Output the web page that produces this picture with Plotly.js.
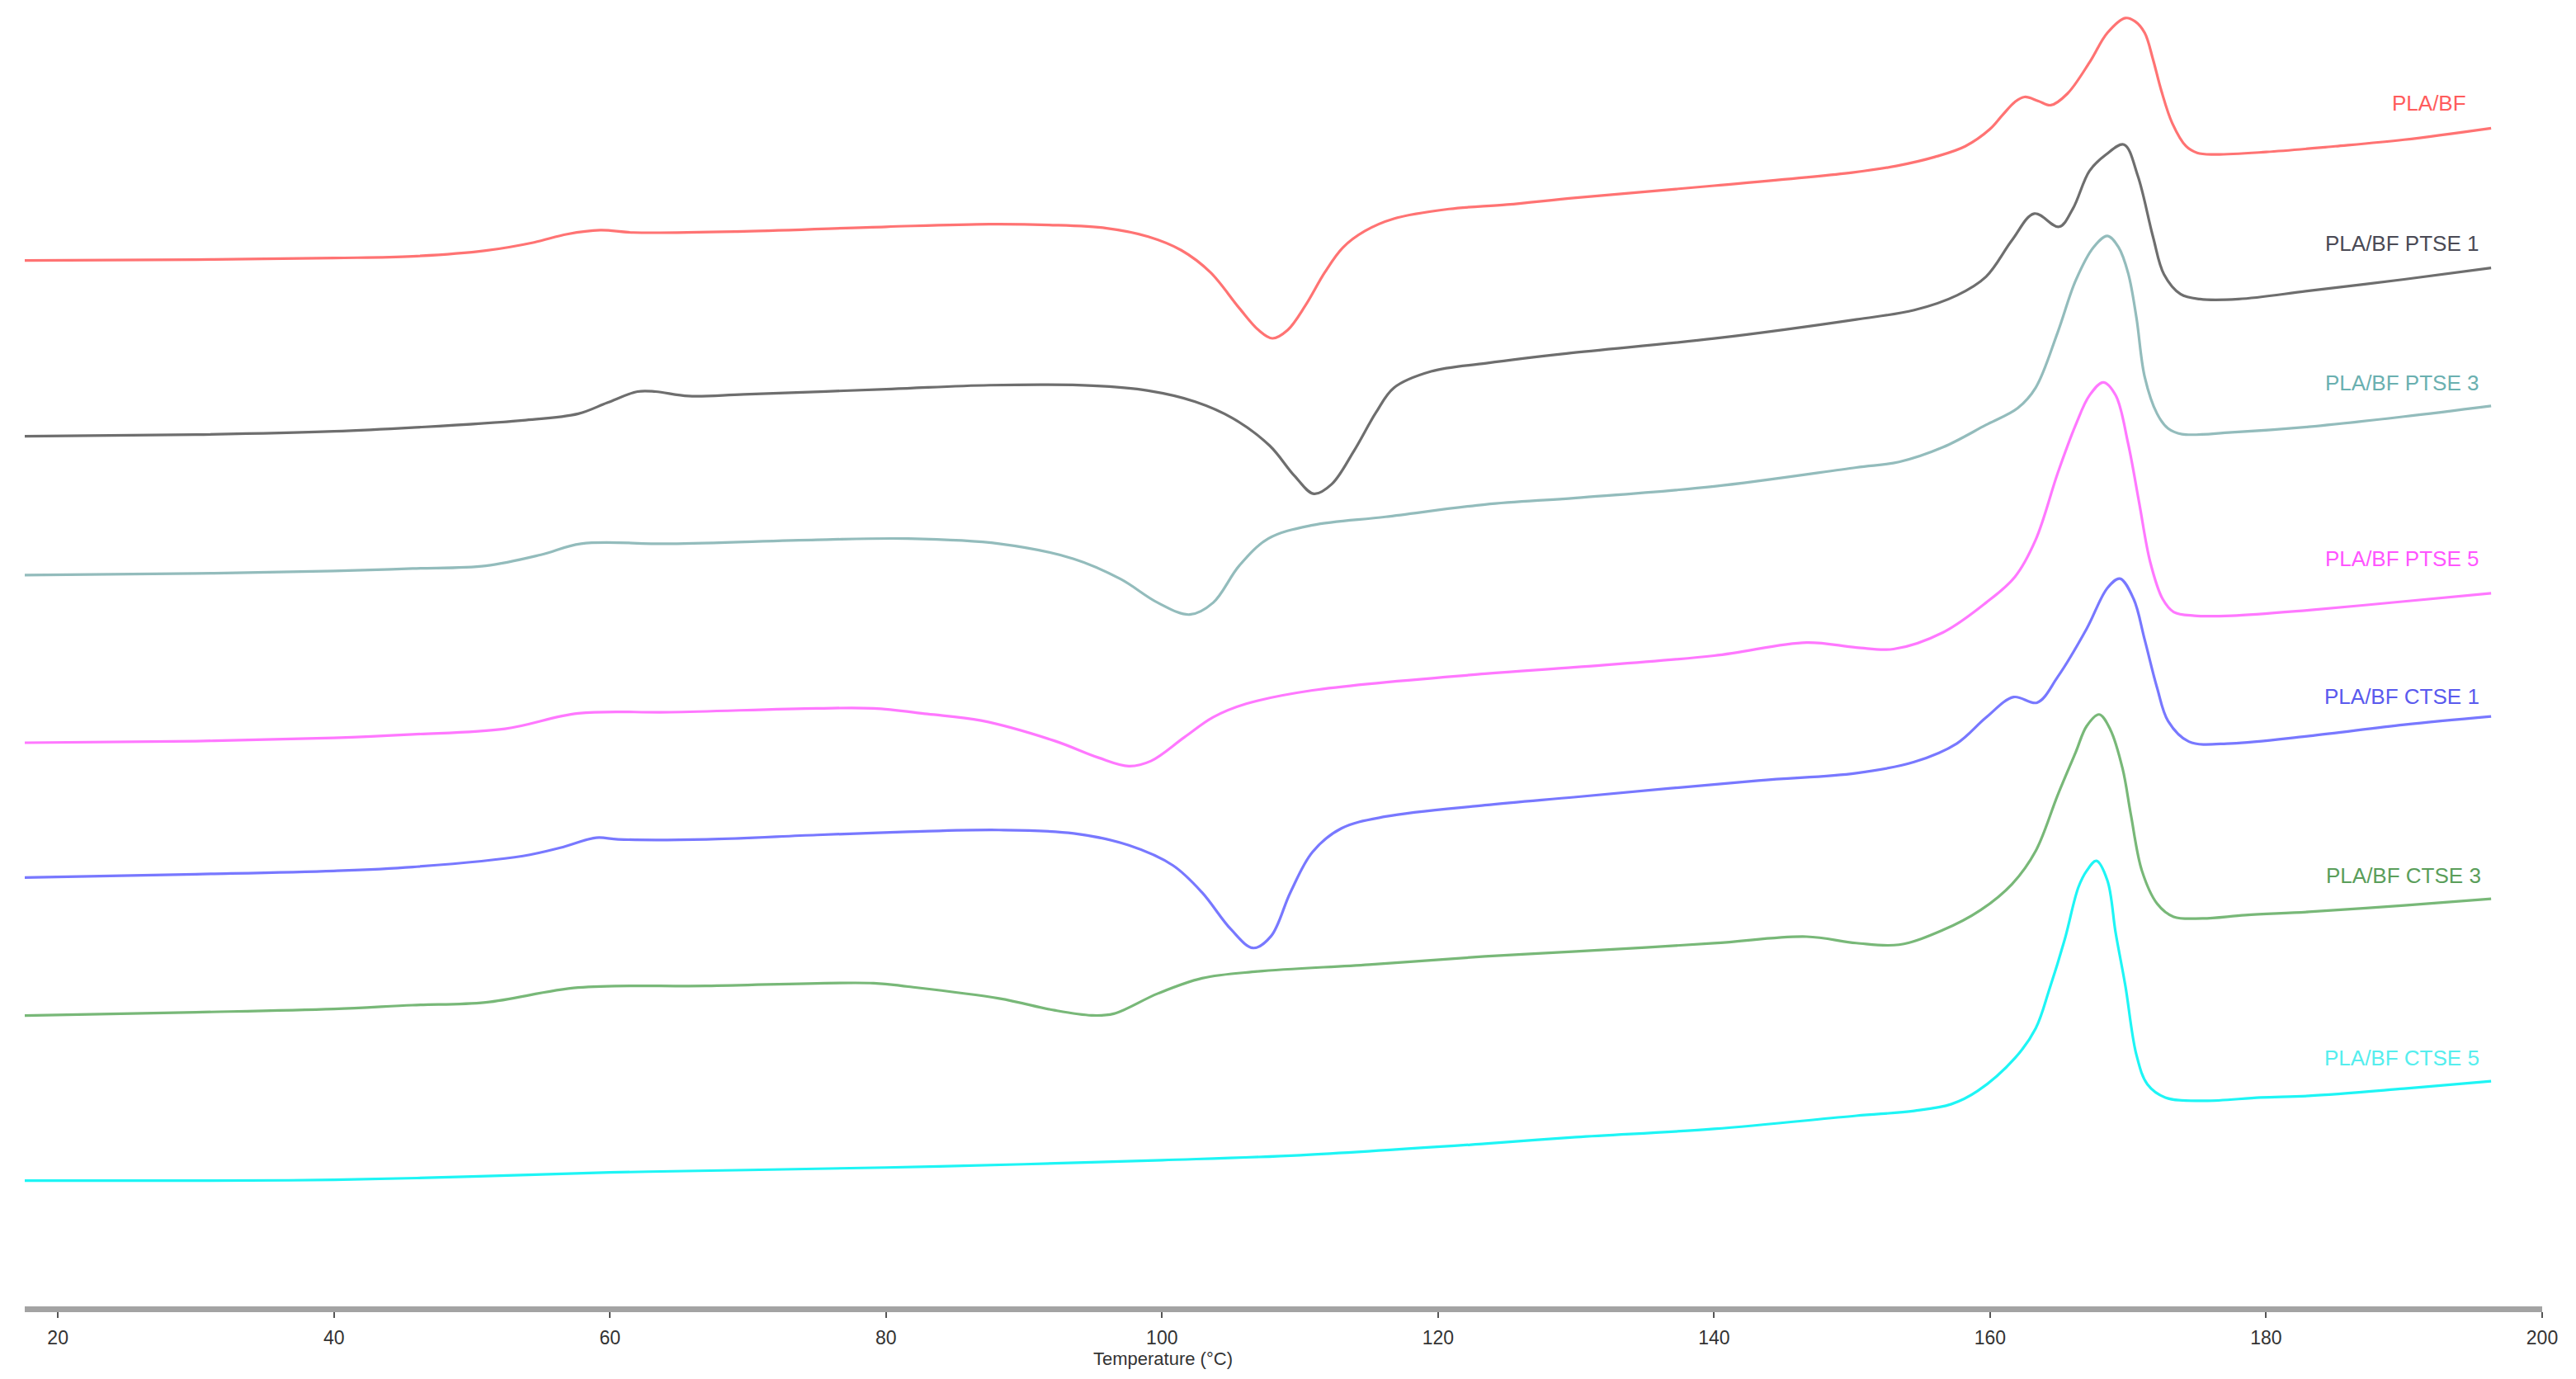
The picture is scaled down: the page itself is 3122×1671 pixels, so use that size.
<!DOCTYPE html>
<html>
<head>
<meta charset="utf-8">
<script src="https://cdn.plot.ly/plotly-3.0.1.min.js"></script>
<style>html,body{margin:0;padding:0;background:#fff;}#chart{width:3122px;height:1671px;}</style>
</head>
<body>
<div id="chart"></div>
<script>
// DSC heating curves: temperature (°C) and heat flow (arbitrary units, curves offset)
const seriesNames = ["PLA/BF", "PLA/BF PTSE 1", "PLA/BF PTSE 3", "PLA/BF PTSE 5", "PLA/BF CTSE 1", "PLA/BF CTSE 3", "PLA/BF CTSE 5"];
const tickValues = [20, 40, 60, 80, 100, 120, 140, 160, 180, 200];

const tPLABF = [17.6,30,40,45.7,51,54.5,56.9,59.3,61.7,69.7,80,87.5,91.8,96,99,101.4,103.5,105.6,107,108,109.1,110.4,111.8,113.1,114.7,116.8,120.8,125,130,140,150,153.2,156,158.2,160,160.9,161.8,162.5,163.5,164.4,165.6,167.2,168.5,169.8,170.5,171.2,171.8,172.4,173.2,174.2,175,176.2,180,185,190,196.3];
const hPLABF = [638.5,639,640,641,644.5,649.5,654.5,656.9,655.5,656.2,659,660.6,660.1,658.1,653,644.7,631.3,609.5,596.1,591.1,596.1,611.2,631.3,646.3,656.4,663.9,669.8,672.5,676.7,684,692,696,701.5,708,718.5,727,735,738,735.5,733,740,759,777,786,784,777,761,742,722,708,704,703,704.5,708,712,719];

const tPTSE1 = [17.6,30,40,45.7,53.7,57.7,59.8,62,63.3,65.7,69.7,80.4,87.5,95,99,102.4,105.1,107.8,109.6,111,112.3,113.9,115.5,116.8,119.5,123.5,129.3,140,150.3,154.5,157.6,159.7,161.6,163.2,165,166,167.2,168.4,169.7,170.7,171.8,172.6,173.8,175.2,178,183.1,190,196.3];
const hPTSE1 = [531.5,532.5,534.5,536.8,541.2,545.2,551.9,558.7,558.7,556,557,560.3,562.6,562.3,559.3,552.6,542.6,525.8,507.4,496.5,502.4,522.5,545.9,561,571,576,581.9,591,602.6,608.3,617.3,628.6,651,667,659,670,693,703,709,690,653,630,618,615,615,620,627,634];

const tPTSE3 = [17.6,30,40,45.7,51,55,57.9,64.4,75,81.6,88.2,93.6,97,99.7,102,103.7,105.6,107.7,110.9,116.2,123.4,130,140,150.3,153.4,156.6,159.7,162,163.3,164.9,166.2,167.5,168.5,169.3,170,170.6,171.2,172.1,172.9,173.9,177.5,183.1,190,196.3];
const hPTSE3 = [447,448,449.5,451,452.7,459.4,466.1,466.1,468.5,469.2,466.1,456.9,444.6,430.2,423,430.2,452.8,469.2,477.4,482.5,490,494,501,512.5,515.9,524.9,538.4,548.6,561,594.8,626.3,646.6,653.4,646.6,630.8,603.8,567.7,545.2,536.2,532.8,533.9,537.3,543.5,550];

const tPTSE5 = [17.6,30,40,45.7,52.4,57.7,64.4,75,79.1,83,86.9,92.2,95.4,97.6,99.2,101.6,103.7,106.1,110.9,123.4,130,140,146.7,150.3,153,156.6,159.7,161.8,163.3,164.9,166.2,167.2,168.2,169.1,170,170.8,171.6,172.5,173.3,174.8,177.5,183.1,190,196.3];
const hPTSE5 = [345,346,348,350.1,353.5,362.9,363.6,365.9,365.9,362.5,358.5,346.2,335.9,330.8,333.9,348.2,360.5,368.7,376.9,387,391,398,406,403,402,412.2,430.2,446,468.5,509.1,538.4,556.4,564.3,556.4,527.1,491.1,455,432.5,424.6,422.3,422.3,425.7,431,436];

const tCTSE1 = [17.6,30,40,45.7,53.7,56.4,59,60.6,67,75,81.6,88.2,93.6,97.6,100.8,102.9,105,106.6,107.9,109.3,110.9,113,116.2,123.4,130,143.2,150.3,154.5,157.6,159.7,161.7,163.4,164.9,167,168.5,169.4,170.4,171.2,172.1,172.9,174.4,177.5,183.1,190,196.3];
const hCTSE1 = [263,265,267,269.4,276.1,281.1,287.2,286.2,286.2,288.9,290.8,291.9,289.8,282.6,270.3,253.9,231.4,220.1,227.3,253.9,278.5,292.9,300.1,307,312,322,326.5,333.3,344.6,360.3,372.8,369.4,385.1,414.4,439.2,444.9,432.5,407.7,378.4,358.1,345.7,344.6,349.1,356,361];

const tCTSE3 = [17.6,30,40,45.7,51,57.7,67,79.1,81.6,88.2,92.2,94.9,96.5,99.7,102.9,106.9,115,123.4,130,140,146.7,150.3,153.4,156.6,159.3,161.6,163.3,164.9,166.2,167,167.9,168.7,169.6,170.2,171,172.1,173.3,175.4,178.5,183.1,190,196.3];
const hCTSE3 = [179,181,183,185.3,187,196,197,198.7,196.6,189.4,182.2,179.1,180.1,192.4,201.7,205.8,210,215,218,223,227,223.1,222.1,231.1,243.1,259.1,279.1,313.2,339.2,355.2,362.2,353.2,329.2,301.2,267.1,247.1,239.1,238.1,240.1,242.1,246,250];

const tCTSE5 = [17.6,30,40,50,60,70,80,90,100,110,123.4,130,140,150.3,154.5,157.2,159.1,161.8,163.3,164.3,165.4,166.4,167,167.7,168.5,169.1,169.8,170.6,171.4,172.7,175.4,179.6,183.1,190,196.3];
const hCTSE5 = [78.5,78.5,79,81,83.5,85,86.5,88.5,91,94,101,105,110,118,121,125.1,133.1,153.1,171.1,195.1,225.1,257.1,267.1,273.1,261.1,229.1,197.1,155.1,137.1,129.1,127.1,129.1,130.1,134.5,139];

// label anchor positions (right edge in °C, vertical centre in a.u.)
const labelX = [194.6, 195.5, 195.5, 195.5, 195.6, 195.7, 195.6];
const labelY = [734, 649, 564, 457, 373, 264, 153];

const lineColors  = ["#ff7373", "#6e6e6e", "#93bcbc", "#ff78ff", "#7878ff", "#78b878", "#1ef5f5"];
const labelColors = ["#ff5c5c", "#4a4a55", "#6ab0b0", "#ff55ff", "#5a5aee", "#5a9e5a", "#55eeee"];

const temps = [tPLABF, tPTSE1, tPTSE3, tPTSE5, tCTSE1, tCTSE3, tCTSE5];
const flows = [hPLABF, hPTSE1, hPTSE3, hPTSE5, hCTSE1, hCTSE3, hCTSE5];

const traces = seriesNames.map((n, i) => ({
  x: temps[i], y: flows[i], name: n, type: 'scatter', mode: 'lines',
  line: {color: lineColors[i], width: 3.2, shape: 'spline', smoothing: 1.0},
  hoverinfo: 'x+y+name'
}));

const annotations = seriesNames.map((n, i) => ({
  x: labelX[i], y: labelY[i], xref: 'x', yref: 'y', text: n, showarrow: false,
  xanchor: 'right', yanchor: 'middle',
  font: {family: 'Liberation Sans, Arial, sans-serif', size: 26, color: labelColors[i]}
}));
annotations.push({
  x: 0.452, y: -0.04, xref: 'paper', yref: 'paper', text: 'Temperature (°C)', showarrow: false,
  xanchor: 'center', yanchor: 'middle',
  font: {family: 'Liberation Sans Narrow, Liberation Sans, Arial, sans-serif', size: 22, color: '#333'}
});

const layout = {
  width: 3122, height: 1671,
  margin: {l: 30, r: 41, t: 0, b: 88},
  paper_bgcolor: '#ffffff', plot_bgcolor: '#ffffff',
  showlegend: false,
  xaxis: {
    range: [17.6, 200], tickmode: 'array', tickvals: tickValues,
    showgrid: false, zeroline: false,
    showline: true, linecolor: '#a3a3a3', linewidth: 7,
    ticks: 'outside', ticklen: 7, tickwidth: 2, tickcolor: '#555',
    ticklabelstandoff: 4,
    tickfont: {family: 'Liberation Sans Narrow, Liberation Sans, Arial, sans-serif', size: 23, color: '#333'}
  },
  yaxis: {range: [2, 797], visible: false, showgrid: false, zeroline: false},
  annotations: annotations
};

Plotly.newPlot('chart', traces, layout, {displayModeBar: false, staticPlot: true});
</script>
</body>
</html>
